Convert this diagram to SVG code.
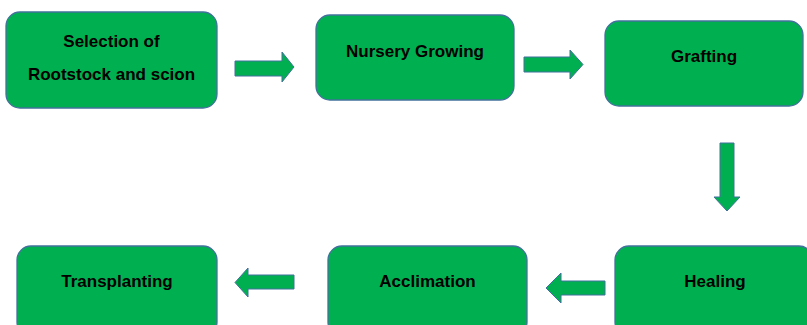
<svg xmlns="http://www.w3.org/2000/svg" width="807" height="325" viewBox="0 0 807 325">
<style>
.box{fill:#00B050;stroke:#41719C;stroke-width:1.3}
.arr{fill:#00B050;stroke:#41719C;stroke-width:1}
.t{font-family:"Liberation Sans",Arial,sans-serif;font-weight:bold;font-size:17px;fill:#000;text-anchor:middle}
</style>
<rect width="807" height="325" fill="#fff"/>
<g id="connectors">
<polygon class="arr" points="235,61 282,61 282,52 294,67 282,82 282,76 235,76"/>
<polygon class="arr" points="524,57 570,57 570,50 583,64.5 570,79 570,72 524,72"/>
<polygon class="arr" points="720,143 734,143 734,197 740,197 727,211 714,197 720,197"/>
<polygon class="arr" points="605,281 561,281 561,273 546,288 561,303 561,295 605,295"/>
<polygon class="arr" points="294,275 248,275 248,268 235,282.5 248,297 248,289 294,289"/>
</g>
<g id="n1"><rect class="box" x="6" y="12" width="211" height="96" rx="14"/>
<text class="t" x="111.5" y="47">Selection of</text>
<text class="t" x="111.5" y="80">Rootstock and scion</text></g>
<g id="n2"><rect class="box" x="316" y="15" width="198" height="85" rx="14"/>
<text class="t" x="415" y="57">Nursery Growing</text></g>
<g id="n3"><rect class="box" x="605" y="21" width="198" height="85" rx="14"/>
<text class="t" x="704" y="62">Grafting</text></g>
<g id="n4"><rect class="box" x="615" y="246" width="198" height="90" rx="14"/>
<text class="t" x="715" y="287">Healing</text></g>
<g id="n5"><rect class="box" x="328" y="246" width="199" height="90" rx="14"/>
<text class="t" x="427.5" y="287">Acclimation</text></g>
<g id="n6"><rect class="box" x="17" y="246" width="200" height="90" rx="14"/>
<text class="t" x="117" y="287">Transplanting</text></g>
</svg>
